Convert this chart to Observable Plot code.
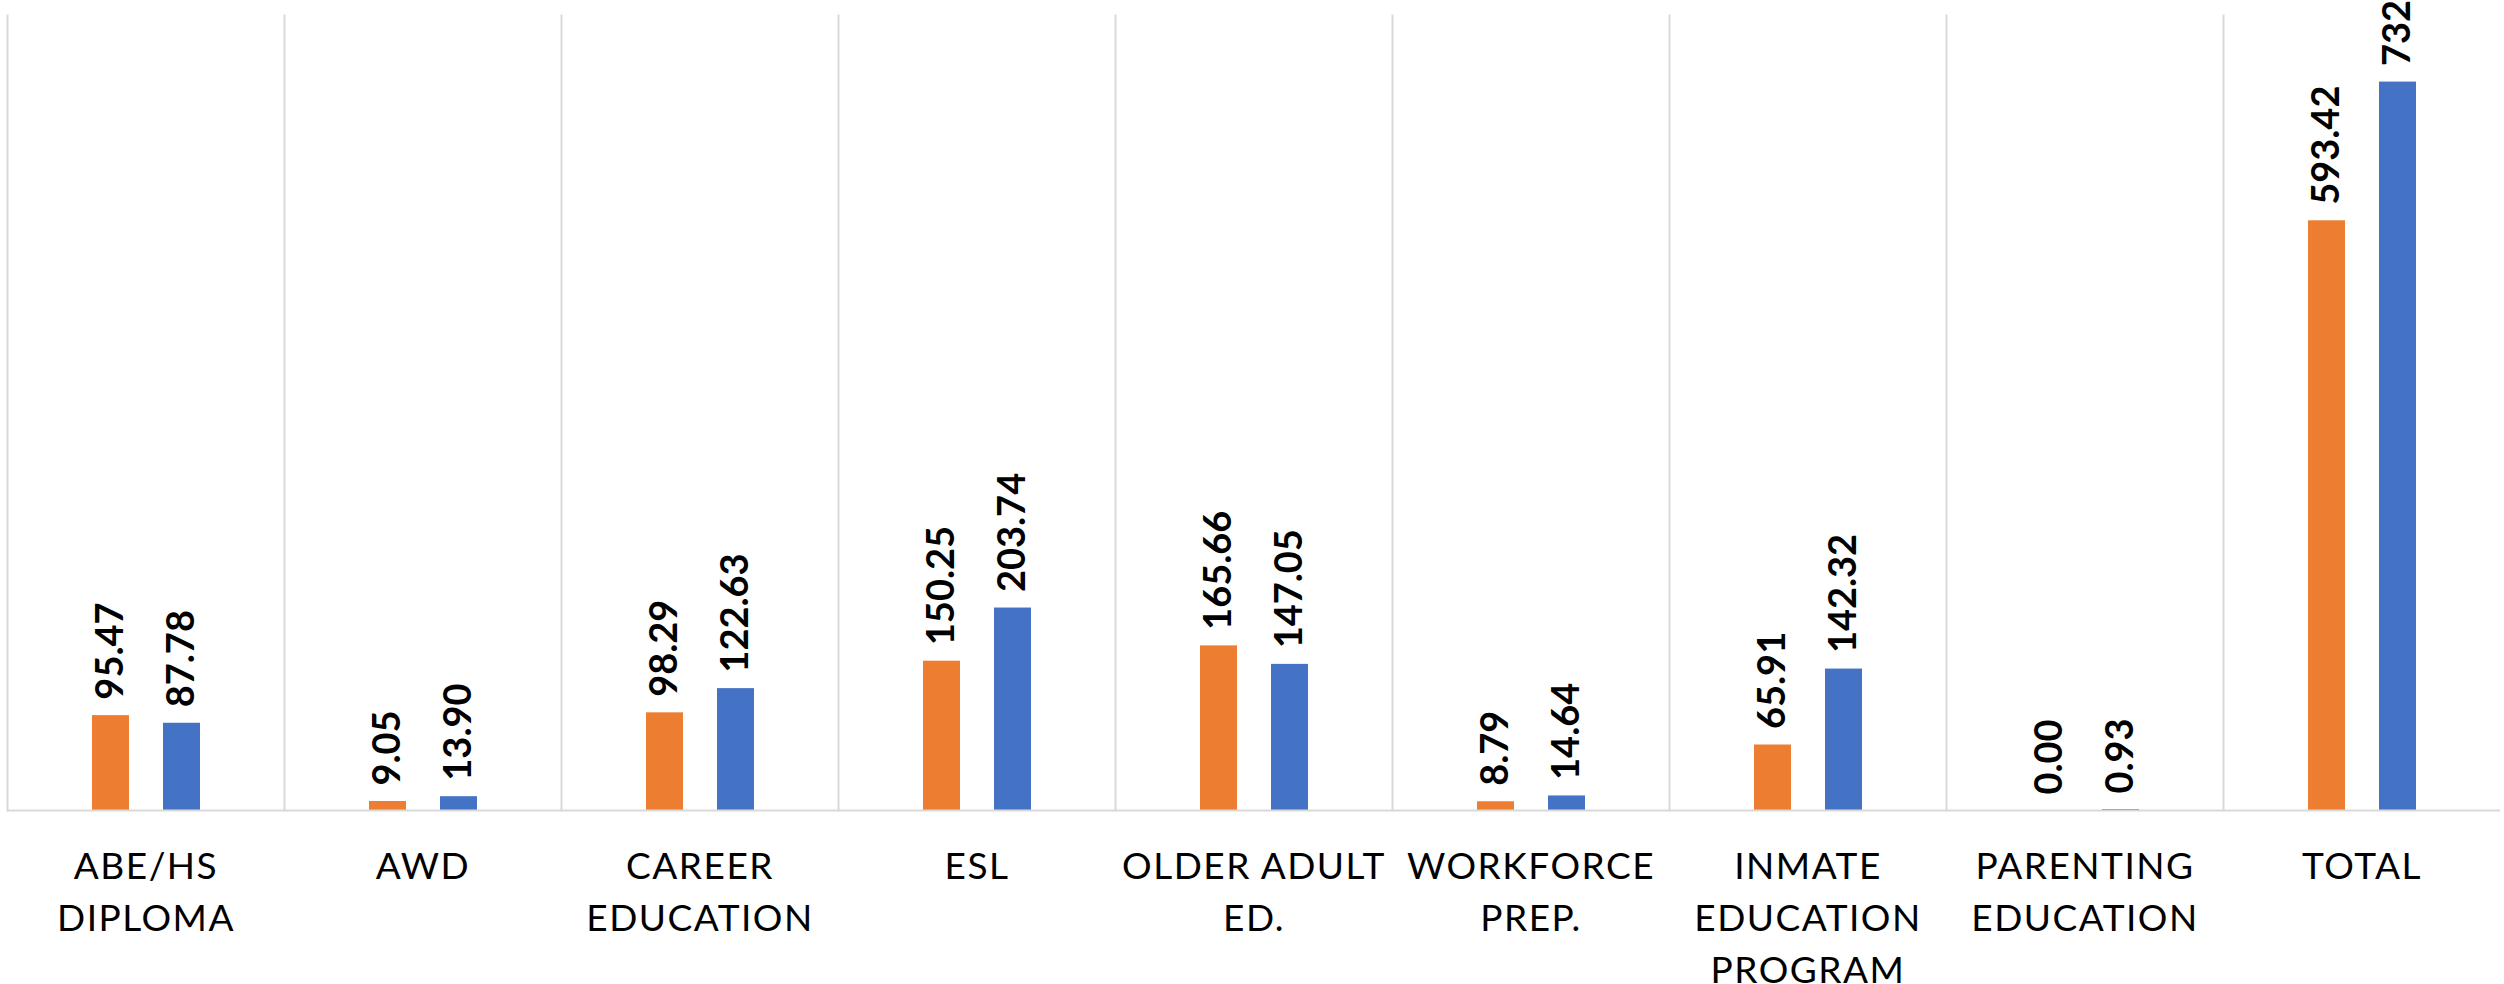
<!DOCTYPE html>
<html>
<head>
<meta charset="utf-8">
<script src="https://cdn.jsdelivr.net/npm/d3@7"></script>
<script src="https://cdn.jsdelivr.net/npm/@observablehq/plot@0.6"></script>
<style>
  html, body { margin: 0; padding: 0; background: #fff; }
  #chart svg { display: block; }
  #chart [aria-label^="fx-axis"] text { letter-spacing: 1.5px; }
</style>
</head>
<body>
<div id="chart"></div>
<script>
const categories = ["ABE/HS DIPLOMA", "AWD", "CAREER EDUCATION", "ESL", "OLDER ADULT ED.", "WORKFORCE PREP.", "INMATE EDUCATION PROGRAM", "PARENTING EDUCATION", "TOTAL"];
const tickLabels = ["ABE/HS\nDIPLOMA", "AWD", "CAREER\nEDUCATION", "ESL", "OLDER ADULT\nED.", "WORKFORCE\nPREP.", "INMATE\nEDUCATION\nPROGRAM", "PARENTING\nEDUCATION", "TOTAL"];
const seriesNames = ["Series 1", "Series 2"];
const series1 = [95.47, 9.05, 98.29, 150.25, 165.66, 8.79, 65.91, 0.00, 593.42];
const series2 = [87.78, 13.90, 122.63, 203.74, 147.05, 14.64, 142.32, 0.93, 732.99];
const seriesColors = ["#ED7D31", "#4472C4"];

const data = categories.flatMap((c, i) => [
  {category: c, series: seriesNames[0], value: series1[i]},
  {category: c, series: seriesNames[1], value: series2[i]}
]);
const labelOf = new Map(categories.map((c, i) => [c, tickLabels[i]]));
const fmt = d3.format(".2f");

const chart = Plot.plot({
  width: 2504,
  height: 984,
  marginTop: 15,
  marginBottom: 174,
  marginLeft: 3,
  marginRight: 0,
  style: {fontFamily: "Lato, 'Open Sans', sans-serif", background: "#fff", color: "#000"},
  fx: {domain: categories, padding: 0},
  x: {domain: seriesNames, paddingInner: 0.48, paddingOuter: 1.17, axis: null},
  y: {domain: [0, 800], axis: null},
  color: {domain: seriesNames, range: seriesColors},
  marks: [
    Plot.frame({anchor: "left", stroke: "#d9d9d9", strokeWidth: 2}),
    Plot.barY(data, {fx: "category", x: "series", y: "value", fill: "series"}),
    Plot.ruleY([0], {stroke: "#d9d9d9", strokeWidth: 2}),
    Plot.text(data, {
      fx: "category", x: "series", y: "value",
      text: d => fmt(d.value),
      rotate: -90, textAnchor: "start", lineAnchor: "middle",
      dy: -16, fontSize: 38, fontWeight: "bold", fill: "#000"
    }),
    Plot.axisFx({
      anchor: "bottom",
      tickSize: 0, tickPadding: 32, fontSize: 37, lineHeight: 1.4,
      tickFormat: d => labelOf.get(d), label: null, fill: "#000"
    })
  ]
});
document.getElementById("chart").appendChild(chart);
</script>
</body>
</html>
